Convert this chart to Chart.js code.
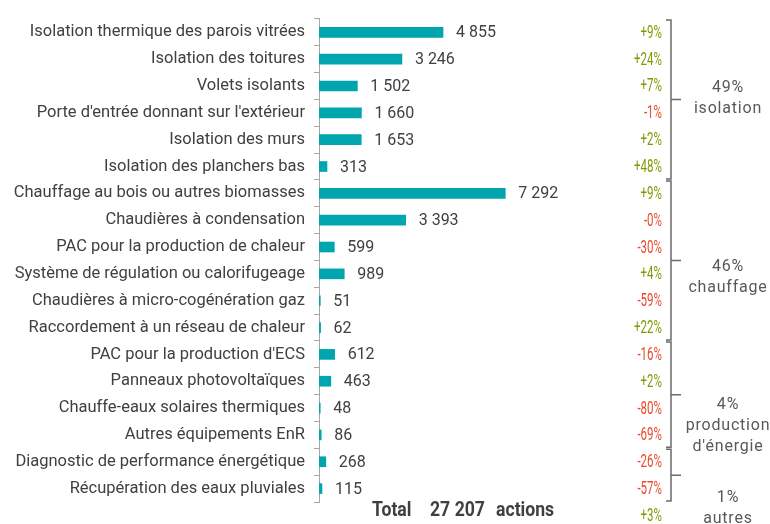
<!DOCTYPE html>
<html>
<head>
<meta charset="utf-8">
<script src="https://cdn.jsdelivr.net/npm/chart.js@4"></script>
<style>
  body { margin: 0; background: #fff; }
  #wrap { width: 770px; height: 524px; }
</style>
</head>
<body>
<div id="wrap"><canvas id="actionsChart" width="770" height="524"></canvas></div>
<script>
// données
const categories = [
    'Isolation thermique des parois vitrées',
    'Isolation des toitures',
    'Volets isolants',
    "Porte d'entrée donnant sur l'extérieur",
    'Isolation des murs',
    'Isolation des planchers bas',
    'Chauffage au bois ou autres biomasses',
    'Chaudières à condensation',
    'PAC pour la production de chaleur',
    'Système de régulation ou calorifugeage',
    'Chaudières à micro-cogénération gaz',
    'Raccordement à un réseau de chaleur',
    "PAC pour la production d'ECS",
    'Panneaux photovoltaïques',
    'Chauffe-eaux solaires thermiques',
    'Autres équipements EnR',
    'Diagnostic de performance énergétique',
    'Récupération des eaux pluviales'
];
const actions = [4855, 3246, 1502, 1660, 1653, 313, 7292, 3393, 599, 989, 51, 62, 612, 463, 48, 86, 268, 115];
const evolution = ['+9%', '+24%', '+7%', '-1%', '+2%', '+48%', '+9%', '-0%', '-30%', '+4%', '-59%', '+22%',
    '-16%', '+2%', '-80%', '-69%', '-26%', '-57%'];
const totalActions = 27207;
const totalEvolution = '+3%';

const groupLabels = [['49%', 'isolation'], ['46%', 'chauffage'], ['4%', 'production', "d'énergie"], ['1%', 'autres']];
const groupFirst = [0, 6, 12, 16];
const groupLast = [5, 11, 15, 17];
const groupTextShift = [-1, 17, 31, 33];

const barColor = '#00a5ae';
const textColor = '#404040';
const green = '#7f9a00';
const red = '#e84a2a';

function fmt(n) {
    return String(n).replace(/\B(?=(\d{3})+(?!\d))/g, ' ');
}

// texte condensé
function narrowText(ctx, text, x, y, align, sx) {
    ctx.save();
    ctx.translate(x, y);
    ctx.scale(sx, 1);
    ctx.textAlign = align;
    ctx.fillText(text, 0, 0);
    ctx.restore();
}

const annotations = {
    id: 'annotations',
    afterDatasetsDraw(chart) {
        const ctx = chart.ctx;
        const yScale = chart.scales.y;
        const meta = chart.getDatasetMeta(0);
        const row = yScale.getPixelForValue(1) - yScale.getPixelForValue(0);

        // valeurs au bout des barres
        ctx.save();
        ctx.font = '16px Roboto';
        ctx.fillStyle = textColor;
        ctx.textBaseline = 'middle';
        ctx.textAlign = 'left';
        meta.data.forEach((bar, i) => {
            ctx.fillText(fmt(actions[i]), bar.x + 13, bar.y + 1);
        });

        // évolutions
        ctx.font = '18px Roboto';
        evolution.forEach((ev, i) => {
            ctx.fillStyle = ev.startsWith('-') ? red : green;
            narrowText(ctx, ev, 662, yScale.getPixelForValue(i) + 1, 'right', 0.64);
        });
        ctx.fillStyle = green;
        narrowText(ctx, totalEvolution, 662, 516, 'right', 0.64);

        // accolades des groupes
        ctx.strokeStyle = '#6b6b6b';
        ctx.lineWidth = 1.5;
        groupLabels.forEach((lines, g) => {
            const top = yScale.getPixelForValue(groupFirst[g]) - row / 2 + 1;
            const bottom = yScale.getPixelForValue(groupLast[g]) + row / 2 - 1;
            const mid = (top + bottom) / 2;
            ctx.beginPath();
            ctx.moveTo(666, top);
            ctx.lineTo(671, top);
            ctx.lineTo(671, bottom);
            ctx.lineTo(666, bottom);
            ctx.moveTo(671, mid);
            ctx.lineTo(681, mid);
            ctx.stroke();

            ctx.fillStyle = '#595959';
            ctx.font = '16px Roboto';
            ctx.letterSpacing = '0.8px';
            ctx.textAlign = 'center';
            const lh = 21;
            const y0 = mid + groupTextShift[g] - (lines.length - 1) * lh / 2;
            lines.forEach((t, k) => ctx.fillText(t, 728, y0 + k * lh));
            ctx.letterSpacing = '0px';
        });

        // total
        ctx.fillStyle = textColor;
        ctx.font = 'bold 21px Roboto';
        narrowText(ctx, 'Total', 372, 511, 'left', 0.84);
        narrowText(ctx, fmt(totalActions), 430, 511, 'left', 0.84);
        narrowText(ctx, 'actions', 496, 511, 'left', 0.84);
        ctx.restore();
    }
};

const ctx = document.getElementById('actionsChart').getContext('2d');

const actionsChart = new Chart(ctx, {
    type: 'bar',
    data: {
        labels: categories,
        datasets: [{
            data: actions,
            backgroundColor: barColor,
            borderWidth: 0,
            barThickness: 10
        }]
    },
    options: {
        indexAxis: 'y',
        responsive: false,
        animation: false,
        devicePixelRatio: 1,
        layout: {
            padding: { top: 13, bottom: 22, left: 0, right: 170 }
        },
        plugins: {
            legend: { display: false },
            tooltip: { enabled: false }
        },
        scales: {
            x: {
                display: false,
                min: 0,
                max: 11000
            },
            y: {
                afterFit(scale) {
                    scale.width = 319;
                },
                border: { display: true, color: '#a6a6a6', width: 1 },
                grid: {
                    drawOnChartArea: false,
                    drawTicks: true,
                    tickLength: 5,
                    color: '#a6a6a6'
                },
                ticks: {
                    padding: 9,
                    color: textColor,
                    font: { family: 'Roboto', size: 16.5 }
                }
            }
        }
    },
    plugins: [annotations]
});
</script>
</body>
</html>
